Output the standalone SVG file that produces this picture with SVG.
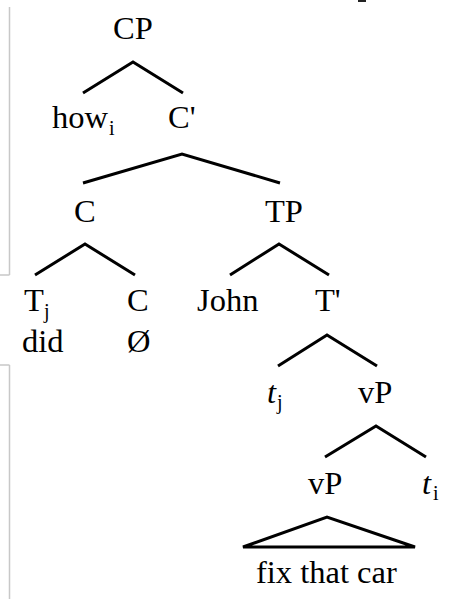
<svg xmlns="http://www.w3.org/2000/svg" width="461" height="599" viewBox="0 0 461 599">
<style>
text{font-family:"Liberation Serif","Times New Roman",serif;font-size:32.5px;fill:#000}
.sub{font-size:20px}
.it{font-style:italic}
.br{fill:none;stroke:#000;stroke-width:3;stroke-linejoin:miter}
.frame{stroke:#c8c8c8;stroke-width:1.5;fill:none}
</style>
<rect width="461" height="599" fill="#fff"/>
<g id="frame">
<path class="frame" d="M9.5 7V275M0 275H9.5M9.5 365V599M0 365H9.5"/>
<rect x="358" y="0" width="8" height="2" fill="#222"/>
</g>
<g id="connectors">
<polyline class="br" points="83,93 133,62 183,93"/>
<polyline class="br" points="83,183 182,154 280,183"/>
<polyline class="br" points="35,275 85,244 135,275"/>
<polyline class="br" points="230,275 279,244 329,275"/>
<polyline class="br" points="278,366 327,335 377,366"/>
<polyline class="br" points="325,457 376,426 426,457"/>
<polygon class="br" points="243,547 327,517 415,547"/>
</g>
<g id="CP"><text x="113" y="39">CP</text></g>
<g id="how"><text x="52" y="128">how</text><text class="sub" x="109" y="135">i</text></g>
<g id="Cbar"><text x="168" y="128">C'</text></g>
<g id="C"><text x="74" y="222">C</text></g>
<g id="TP"><text x="265" y="222">TP</text></g>
<g id="Tj"><text x="24" y="311">T</text><text class="sub" x="44" y="318">j</text><text x="22" y="352">did</text></g>
<g id="C0"><text x="127" y="311">C</text><text x="127" y="352">Ø</text></g>
<g id="John"><text x="197" y="311">John</text></g>
<g id="Tbar"><text x="315" y="311">T'</text></g>
<g id="tj"><text class="it" x="267" y="403">t</text><text class="sub" x="277" y="409">j</text></g>
<g id="vP1"><text x="358" y="403">vP</text></g>
<g id="vP2"><text x="308" y="494">vP</text></g>
<g id="ti"><text class="it" x="422" y="494">t</text><text class="sub" x="433" y="500">i</text></g>
<g id="fix"><text x="256" y="583">fix that car</text></g>
</svg>
